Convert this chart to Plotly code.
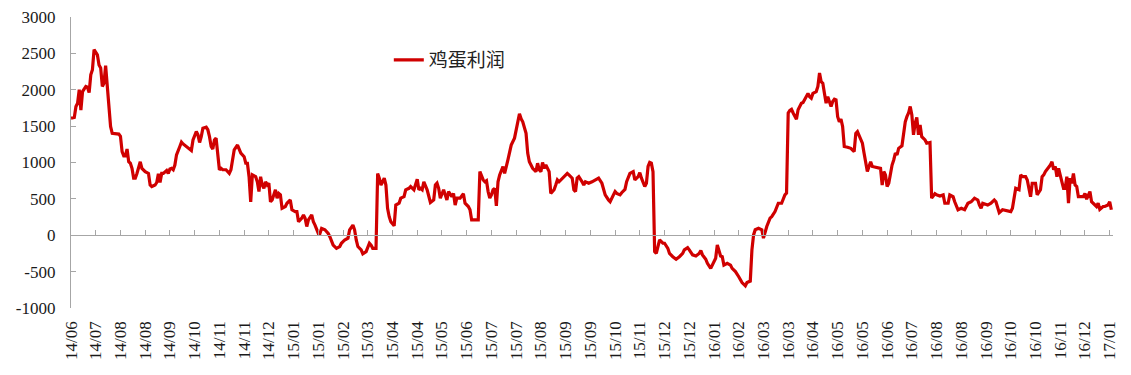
import plotly.graph_objects as go

# trading-day index (15 trading days between axis labels)
day = [0, 2, 3, 4, 5, 6, 7, 8, 9, 10, 11, 12, 13, 14, 16, 17, 18, 19, 20, 21, 22, 23, 24, 25, 27, 29, 30, 31, 32, 33,
       34, 35, 36, 37, 38, 39, 40, 41, 42, 43, 45, 47, 48, 49, 51, 52, 53, 54, 55, 56, 58, 59, 60, 61, 62, 63, 64, 66,
       67, 68, 71, 73, 74, 76, 77, 78, 79, 80, 82, 83, 84, 85, 86, 87, 88, 89, 90, 91, 92, 94, 96, 97, 98, 99, 101,
       102, 103, 105, 106, 107, 108, 109, 110, 112, 113, 114, 115, 116, 117, 118, 119, 120, 121, 122, 124, 125, 126,
       127, 128, 130, 131, 133, 134, 136, 137, 138, 140, 141, 142, 143, 144, 146, 147, 148, 150, 151, 152, 154, 156,
       157, 159, 161, 163, 164, 166, 168, 169, 171, 172, 173, 174, 176, 177, 179, 180, 181, 182, 183, 185, 186, 187,
       188, 189, 190, 191, 192, 193, 194, 196, 197, 199, 200, 202, 203, 205, 206, 208, 210, 211, 212, 213, 214, 216,
       217, 218, 220, 221, 222, 223, 224, 226, 227, 228, 229, 231, 232, 233, 234, 236, 238, 239, 241, 242, 243, 245,
       247, 248, 250, 251, 252, 253, 254, 255, 256, 257, 258, 259, 260, 262, 263, 265, 266, 267, 269, 270, 271, 272,
       273, 274, 276, 277, 278, 280, 282, 283, 284, 285, 286, 287, 288, 289, 290, 291, 292, 293, 294, 295, 296, 298,
       300, 301, 302, 304, 305, 306, 307, 308, 310, 311, 312, 314, 316, 318, 320, 322, 323, 324, 326, 327, 329, 330,
       331, 333, 334, 336, 337, 339, 341, 342, 344, 345, 346, 348, 349, 350, 351, 352, 353, 354, 355, 356, 357, 359,
       360, 362, 363, 365, 367, 369, 371, 372, 374, 375, 377, 379, 381, 382, 383, 385, 386, 388, 389, 391, 392, 393,
       394, 395, 396, 398, 400, 401, 403, 405, 407, 409, 410, 412, 413, 414, 415, 417, 419, 420, 421, 422, 424, 425,
       427, 428, 429, 431, 432, 433, 434, 435, 436, 437, 438, 440, 441, 443, 444, 445, 447, 448, 449, 450, 452, 453,
       454, 455, 456, 457, 458, 459, 461, 462, 463, 464, 465, 466, 467, 468, 469, 471, 473, 475, 476, 477, 480, 481,
       482, 483, 484, 485, 486, 488, 490, 491, 492, 493, 494, 495, 496, 497, 498, 499, 500, 501, 502, 504, 505, 506,
       507, 508, 509, 510, 511, 512, 513, 514, 515, 516, 518, 519, 521, 522, 524, 525, 527, 529, 530, 532, 533, 535,
       536, 538, 540, 542, 544, 546, 548, 550, 551, 552, 553, 556, 558, 560, 561, 562, 563, 565, 567, 570, 571, 573,
       575, 576, 577, 579, 580, 582, 583, 585, 586, 588, 589, 590, 591, 592, 594, 595, 596, 597, 598, 599, 600, 601,
       602, 603, 604, 605, 606, 607, 608, 609, 610, 611, 614, 615, 616, 618, 619, 620, 622, 623, 624, 626, 627, 629,
       630, 631]

profit = [1610, 1620, 1770, 1815, 2000, 1720, 1975, 2005, 2045, 2035, 1960, 2205, 2275, 2550, 2480, 2340, 2300, 2045,
          2090, 2330, 2030, 1770, 1495, 1400, 1390, 1390, 1360, 1150, 1090, 1090, 1185, 1010, 990, 920, 785, 785, 850,
          920, 1010, 920, 875, 850, 690, 670, 690, 725, 845, 725, 850, 850, 890, 850, 910, 920, 900, 965, 1105, 1220,
          1280, 1255, 1195, 1165, 1310, 1425, 1380, 1275, 1355, 1470, 1485, 1450, 1355, 1220, 1185, 1310, 1335, 1080,
          900, 920, 900, 900, 850, 900, 1035, 1175, 1240, 1195, 1130, 1080, 990, 990, 805, 460, 830, 805, 735, 600,
          805, 690, 645, 735, 690, 715, 460, 485, 625, 510, 575, 555, 370, 395, 440, 485, 350, 325, 325, 185, 235,
          280, 235, 120, 210, 280, 185, 140, 25, 25, 95, 75, 25, -20, -135, -180, -155, -110, -65, -40, 75, 140, 75,
          -65, -155, -200, -255, -225, -155, -110, -135, -180, -180, 850, 785, 690, 735, 785, 690, 370, 255, 185, 130,
          415, 440, 510, 530, 625, 645, 670, 625, 770, 625, 645, 625, 735, 625, 530, 450, 485, 690, 715, 645, 510,
          625, 555, 485, 600, 530, 575, 415, 510, 510, 570, 440, 395, 350, 210, 210, 210, 875, 760, 735, 750, 600,
          510, 555, 625, 645, 405, 735, 830, 945, 850, 1035, 1130, 1240, 1335, 1450, 1560, 1670, 1600, 1560, 1400,
          1130, 1010, 920, 875, 990, 900, 875, 1000, 920, 965, 905, 875, 575, 600, 625, 690, 760, 735, 785, 830, 850,
          830, 785, 625, 600, 785, 805, 735, 690, 735, 715, 735, 760, 785, 715, 625, 555, 485, 460, 555, 600, 575,
          555, 585, 630, 735, 850, 875, 760, 805, 860, 785, 670, 715, 945, 1000, 990, 875, -225, -250, -135, -65,
          -110, -110, -180, -250, -295, -330, -295, -250, -200, -170, -200, -270, -285, -250, -210, -270, -330, -385,
          -455, -410, -315, -135, -225, -285, -295, -410, -385, -410, -455, -500, -570, -650, -695, -650, -630, -200,
          5, 75, 95, 75, -40, 50, 120, 235, 255, 325, 395, 440, 440, 510, 555, 580, 1680, 1715, 1730, 1680, 1595,
          1725, 1815, 1825, 1860, 1950, 1905, 1885, 1950, 1975, 2045, 2230, 2110, 2090, 1950, 1815, 1905, 1770, 1840,
          1870, 1860, 1630, 1560, 1595, 1495, 1220, 1210, 1195, 1150, 1400, 1425, 1265, 1130, 990, 875, 945, 1010,
          945, 935, 920, 920, 690, 875, 830, 670, 715, 850, 965, 1035, 1130, 1105, 1195, 1230, 1425, 1560, 1630,
          1680, 1770, 1655, 1380, 1540, 1620, 1380, 1515, 1355, 1310, 1265, 1275, 510, 570, 555, 540, 555, 440, 440,
          555, 530, 460, 350, 370, 350, 440, 460, 510, 485, 415, 370, 440, 415, 440, 485, 460, 395, 310, 350, 340,
          325, 370, 645, 625, 830, 805, 805, 760, 530, 715, 715, 555, 625, 805, 830, 875, 900, 965, 1010, 900, 945,
          805, 920, 805, 735, 645, 645, 805, 440, 785, 715, 850, 690, 670, 530, 530, 575, 495, 600, 460, 440, 395,
          440, 355, 395, 395, 415, 460, 350]

tick_labels = ["14/06", "14/07", "14/08", "14/08", "14/09", "14/10", "14/11", "14/11", "14/12", "15/01", "15/01",
               "15/02", "15/03", "15/04", "15/04", "15/05", "15/06", "15/07", "15/07", "15/08", "15/09", "15/09",
               "15/10", "15/11", "15/12", "15/12", "16/01", "16/02", "16/03", "16/03", "16/04", "16/05", "16/05",
               "16/06", "16/07", "16/08", "16/08", "16/09", "16/10", "16/10", "16/11", "16/12", "17/01"]
tick_step = 15
y_ticks = [-1000, -500, 0, 500, 1000, 1500, 2000, 2500, 3000]
y_tick_text = ["-1000", "-500", "0", "500", "1000", "1500", "2000", "2500", "3000"]

series_name = "鸡蛋利润"

fig = go.Figure()
fig.add_trace(go.Scatter(
    x=day, y=profit, mode="lines", name=series_name,
    line=dict(color="#D00000", width=3.2),
    showlegend=True, hoverinfo="skip",
))

axis_gray = "#A6A6A6"
serif = "Times New Roman, Liberation Serif, serif"
label_font = dict(family=serif, size=17, color="#1A1A1A")

fig.update_layout(
    width=1131, height=375,
    margin=dict(l=71, r=18, t=17, b=67, autoexpand=False),
    paper_bgcolor="white", plot_bgcolor="white",
    showlegend=True,
    hovermode=False,
    legend=dict(
        x=0.305, y=0.852, xanchor="left", yanchor="middle",
        font=dict(family="Noto Sans CJK SC", size=19, color="#222222"),
        bgcolor="rgba(0,0,0,0)",
    ),
    xaxis=dict(
        range=[0, 632],
        anchor="free", position=0.25,
        showline=True, linecolor=axis_gray, linewidth=1.3,
        ticks="inside", ticklen=5, tickcolor=axis_gray, tickwidth=1.3,
        tickvals=[i * tick_step for i in range(len(tick_labels))],
        ticktext=tick_labels,
        tickangle=-90,
        ticklabelstandoff=78,
        tickfont=label_font,
        showgrid=False, zeroline=False,
    ),
    yaxis=dict(
        range=[-1000, 3000],
        tickvals=y_ticks,
        ticktext=y_tick_text,
        showline=True, linecolor=axis_gray, linewidth=1.3,
        ticks="inside", ticklen=5, tickcolor=axis_gray, tickwidth=1.3,
        ticklabelstandoff=11,
        tickfont=label_font,
        showgrid=False, zeroline=False,
    ),
)

fig.write_html("out.html", config={"displayModeBar": False},
               post_script="document.body.style.margin='0';")
